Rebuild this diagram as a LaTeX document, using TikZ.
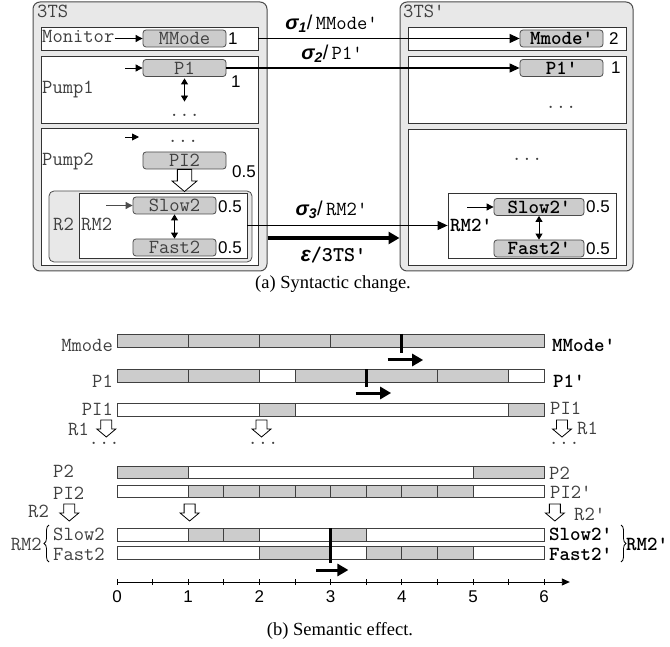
\documentclass[tikz,border=0pt]{standalone}
\usepackage{fontspec}
\setmainfont{Liberation Serif}
\setsansfont{Liberation Sans}
\usetikzlibrary{positioning,calc,arrows.meta,decorations.pathreplacing}

\newcommand\mono{\ttfamily\fontsize{20}{22}\selectfont}
\newcommand\monob{\ttfamily\bfseries\fontsize{20}{22}\selectfont}
\newcommand\numf{\sffamily\fontsize{17}{19}\selectfont}
\newcommand\capf{\rmfamily\fontsize{18.5}{21}\selectfont}
\newcommand\pr{\textquotesingle}
\newcommand\sig[1]{{\sffamily\bfseries\itshape σ\textsubscript{#1}}}
\colorlet{busy}{black!20}
\colorlet{idle}{white}

\tikzset{
  hollow/.pic={
    \draw[fill=white, line width=0.8pt] (-5.5pt,0pt) -- (-5.5pt,-9pt) -- (-9.5pt,-9pt) -- (0pt,-17pt)
      -- (9.5pt,-9pt) -- (5.5pt,-9pt) -- (5.5pt,0pt) -- cycle;
  }
}

\begin{document}
\begin{tikzpicture}[
    x=1pt, y=-1pt,
    sysbox/.style={draw=black!70, fill=black!9, line width=1pt, rounded corners=7pt, inner sep=0pt},
    compbox/.style={draw=black!80, fill=white, line width=0.8pt, inner sep=0pt},
    regbox/.style={draw=black!70, fill=black!9, line width=0.8pt, rounded corners=5pt, inner sep=0pt},
    state/.style={draw=black!70, fill=busy, line width=0.8pt, rounded corners=3pt, minimum width=83pt,
      minimum height=17pt, inner sep=0pt, font=\mono, text=black!75},
    pstate/.style={state, font=\monob, text=black, minimum width=90pt},
    lbl/.style={font=\mono, text=black!75, inner sep=0pt},
    blbl/.style={font=\monob, inner sep=0pt},
    num/.style={font=\numf, inner sep=0pt},
    init/.style={-{Triangle[length=7pt,width=7pt]}, line width=0.9pt},
    dbl/.style={{Triangle[length=6pt,width=7pt]}-{Triangle[length=6pt,width=7pt]}, line width=0.9pt},
    conn/.style={-{Triangle[length=10pt,width=9pt]}, line width=1.1pt},
    bigarr/.style={-{Triangle[length=11pt,width=12pt]}, line width=3.5pt},
    tarr/.style={-{Triangle[length=11pt,width=12pt]}, line width=3pt},
    bar/.style={draw=black!75, line width=0.9pt},
    marker/.style={line width=3pt},
    curly/.style={decorate, decoration={brace, amplitude=5pt}, line width=0.8pt},
]
    \useasboundingbox (0,0) rectangle (670,647);

    % --- (a) original system ---
    \node[sysbox, minimum width=234pt, minimum height=269pt] (ts) at (150,136.5) {};
    \node[lbl, anchor=base west] (tsname) at (37,18) {3TS};

    \node[compbox, minimum width=217pt, minimum height=23pt] (mon) at (149.5,38.5) {};
    \node[lbl, anchor=base west] (monname) at (42,43) {Monitor};
    \node[state] (mm) at (184.5,38.5) {MMode};
    \node[num, anchor=west] (mmw) at (228,38.5) {1};
    \draw[init] (monname.east |- mm.west) -- (mm.west);

    \node[compbox, minimum width=217pt, minimum height=67pt] (pump1) at (149.5,89.5) {};
    \node[lbl, anchor=base west] (pump1name) at (42,94) {Pump1};
    \node[state] (p1) at (184.5,68) {P1};
    \node[num, anchor=west] (p1w) at (231,82) {1};
    \node[lbl, anchor=base] (dots1) at (184.5,117) {...};
    \coordinate (p1in) at (125,68);
    \draw[init] (p1in) -- (p1.west);
    \draw[dbl, shorten <=1.5pt, shorten >=13pt] (p1.south) -- (dots1.north);

    \node[compbox, minimum width=217pt, minimum height=137pt] (pump2) at (149.5,196.5) {};
    \node[lbl, anchor=base west] (pump2name) at (42,166) {Pump2};
    \node[lbl, anchor=base] (dots2) at (183,143) {...};
    \coordinate (p2in) at (125,137);
    \coordinate (p2to) at (139,137);
    \draw[init] (p2in) -- (p2to);
    \node[state] (pi2) at (184.5,160.5) {PI2};
    \node[num, anchor=west] (pi2w) at (232,172) {0.5};

    \node[regbox, minimum width=203pt, minimum height=71pt] (r2) at (150.5,226.5) {};
    \node[lbl, anchor=west] (r2name) at (53,224) {R2};
    \node[compbox, minimum width=168pt, minimum height=65pt] (rm2) at (163,225.5) {};
    \node[lbl, anchor=west] (rm2name) at (81,224) {RM2};
    \node[state] (slow2) at (174.5,205.5) {Slow2};
    \node[state] (fast2) at (174.5,247.5) {Fast2};
    \node[num, anchor=west] (slow2w) at (218,207) {0.5};
    \node[num, anchor=west] (fast2w) at (218,248) {0.5};
    \coordinate (s2in) at (106,205.5);
    \draw[init, black!70] (s2in) -- (slow2.west);
    \draw[dbl] (slow2) -- (fast2);
    \pic[scale=1.3] at (pi2.south) {hollow};

    % --- (a) changed system ---
    \node[sysbox, minimum width=233pt, minimum height=269pt] (tsp) at (516.5,136.5) {};
    \node[lbl, anchor=base west] (tspname) at (403,18) {3TS\pr};

    \node[compbox, minimum width=218pt, minimum height=23pt] (monp) at (517,38.5) {};
    \node[pstate, minimum width=83pt] (mmp) at (561.5,38.5) {Mmode\pr};
    \node[num, anchor=west] (mmpw) at (609,38.5) {2};

    \node[compbox, minimum width=218pt, minimum height=67pt] (pump1p) at (517,89.5) {};
    \node[pstate, minimum width=83pt] (p1p) at (561.5,68) {P1\pr};
    \node[num, anchor=west] (p1pw) at (611,68) {1};
    \node[lbl, anchor=base] (dots1p) at (561,109) {...};

    \node[compbox, minimum width=218pt, minimum height=136pt] (pump2p) at (517,197) {};
    \node[lbl, anchor=base] (dots2p) at (527,161) {...};
    \node[compbox, minimum width=168pt, minimum height=65pt] (rm2p) at (532,225.5) {};
    \node[blbl, anchor=west] (rm2pname) at (450,225) {RM2\pr};
    \node[pstate] (slow2p) at (539,207) {Slow2\pr};
    \node[pstate] (fast2p) at (539,248.5) {Fast2\pr};
    \node[num, anchor=west] (slow2pw) at (586,207) {0.5};
    \node[num, anchor=west] (fast2pw) at (586,248.5) {0.5};
    \coordinate (s2pin) at (467,207);
    \draw[init] (s2pin) -- (slow2p.west);
    \draw[dbl] (slow2p) -- (fast2p);

    % --- (a) transformations ---
    \draw[conn] (mon.east) -- (mmp.west)
        node[pos=0.28, above=5pt, inner sep=0pt, font=\mono] (sig1) {\sig{1}{\sffamily/}\,MMode\pr};
    \draw[conn] (p1.east) -- (p1p.west)
        node[pos=0.36, above=5pt, inner sep=0pt, font=\mono] (sig2) {\sig{2}{\sffamily/}\,P1\pr};
    \draw[conn] (rm2.east) -- (rm2p.west)
        node[pos=0.42, above=6pt, inner sep=0pt, font=\mono] (sig3) {\sig{3}{\sffamily/}\,RM2\pr};
    \coordinate (eps) at (0,238);
    \draw[bigarr] (ts.east |- eps) -- (tsp.west |- eps)
        node[midway, below=7pt, inner sep=0pt, font=\ttfamily\bfseries\fontsize{21}{23}\selectfont] (epslbl)
        {{\sffamily\bfseries\itshape ε}/3TS\pr};

    \node[font=\capf, anchor=base] (capa) at (333,289) {(a) Syntactic change.};

    % --- (b) timeline ---
    \begin{scope}[shift={(117,0)}, x=71.2pt]
        % Mmode
        \foreach \a/\b/\c in {0/1/busy,1/2/busy,2/3/busy,3/6/busy}
            \draw[bar, fill=\c] (\a,334) rectangle (\b,347);
        % P1
        \foreach \a/\b/\c in {0/1/busy,1/2/busy,2/2.5/idle,2.5/4.5/busy,4.5/5.5/busy,5.5/6/idle}
            \draw[bar, fill=\c] (\a,369) rectangle (\b,382);
        % PI1
        \foreach \a/\b/\c in {0/2/idle,2/2.5/busy,2.5/5.5/idle,5.5/6/busy}
            \draw[bar, fill=\c] (\a,403) rectangle (\b,416);
        % P2
        \foreach \a/\b/\c in {0/1/busy,1/5/idle,5/6/busy}
            \draw[bar, fill=\c] (\a,466) rectangle (\b,478);
        % PI2
        \foreach \a/\b/\c in {0/1/idle,1/1.5/busy,1.5/2/busy,2/2.5/busy,2.5/3/busy,3/3.5/busy,
                3.5/4/busy,4/4.5/busy,4.5/5/busy,5/6/idle}
            \draw[bar, fill=\c] (\a,485) rectangle (\b,497);
        % Slow2 / Fast2
        \foreach \a/\b/\c in {0/1/idle,1/1.5/busy,1.5/2/busy,2/3/idle,3/3.5/busy,3.5/6/idle}
            \draw[bar, fill=\c] (\a,528) rectangle (\b,541);
        \foreach \a/\b/\c in {0/2/idle,2/3/busy,3/3.5/idle,3.5/4/busy,4/4.5/busy,4.5/5/busy,5/6/idle}
            \draw[bar, fill=\c] (\a,546) rectangle (\b,559);

        % change points
        \draw[marker] (4,334) -- (4,353);
        \draw[tarr] (3.8,360) -- (4.3,360);
        \draw[marker] (3.5,369) -- (3.5,387);
        \draw[tarr] (3.35,393) -- (3.85,393);
        \draw[marker] (3,528) -- (3,563);
        \draw[tarr] (2.8,570) -- (3.25,570);

        % reconfigurations
        \pic at (-0.15,420) {hollow};
        \pic at (2.03,420) {hollow};
        \pic at (6.25,420) {hollow};
        \node[lbl, anchor=base] (r1dotsa) at (-0.18,444) {...};
        \node[lbl, anchor=base] (r1dotsb) at (2.05,444) {...};
        \node[lbl, anchor=base] (r1dotsc) at (6.28,444) {...};
        \pic at (-0.67,504) {hollow};
        \pic at (1.02,504) {hollow};
        \pic at (6.15,504) {hollow};

        % time axis
        \draw[-{Triangle[length=8pt,width=7pt]}, line width=0.9pt] (0,582) -- (6.36,582);
        \foreach \t in {0,0.5,...,6}
            \draw[line width=0.8pt] (\t,579) -- (\t,585);
        \foreach \t in {0,...,6}
            \node[num, anchor=base] (tick\t) at (\t,602) {\t};
    \end{scope}

    % --- (b) labels ---
    \node[lbl, anchor=base east] (lmm) at (113,352) {Mmode};
    \node[lbl, anchor=base east] (lp1) at (113,387) {P1};
    \node[lbl, anchor=base east] (lpi1) at (113,415) {PI1};
    \node[lbl, anchor=base east] (lr1) at (89,435) {R1};
    \node[lbl, anchor=base west] (lp2) at (53,477) {P2};
    \node[lbl, anchor=base west] (lpi2) at (53,499) {PI2};
    \node[lbl, anchor=base east] (lr2) at (49,517) {R2};
    \node[lbl, anchor=base west] (lslow) at (53,540) {Slow2};
    \node[lbl, anchor=base west] (lfast) at (53,560) {Fast2};
    \draw[curly] (49,562) -- (49,525);
    \node[lbl, anchor=east] (lrm2) at (42,544) {RM2};

    \node[blbl, anchor=base west] (rmm) at (552,352) {MMode\pr};
    \node[blbl, anchor=base west] (rp1) at (553,387) {P1\pr};
    \node[lbl, anchor=base west] (rpi1) at (550,414) {PI1};
    \node[lbl, anchor=base west] (rr1) at (577,434) {R1};
    \node[lbl, anchor=base west] (rp2) at (549,479) {P2};
    \node[lbl, anchor=base west] (rpi2) at (550,498) {PI2\pr};
    \node[lbl, anchor=base west] (rr2) at (574,520) {R2\pr};
    \node[blbl, anchor=base west] (rslow) at (549,540) {Slow2\pr};
    \node[blbl, anchor=base west] (rfast) at (549,560) {Fast2\pr};
    \draw[curly] (621,525) -- (621,562);
    \node[blbl, anchor=west] (rrm2) at (626,544) {RM2\pr};

    \node[font=\capf, anchor=base] (capb) at (340,635) {(b) Semantic effect.};
\end{tikzpicture}
\end{document}
